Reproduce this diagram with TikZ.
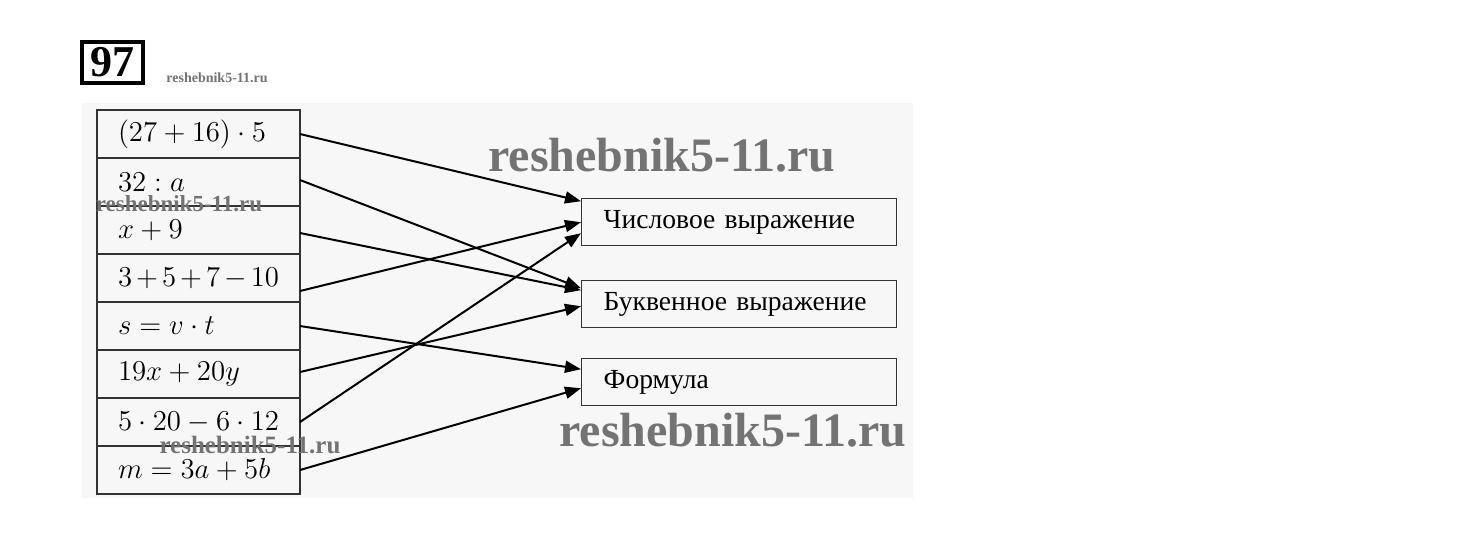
\documentclass[tikz,border=0pt]{standalone}
\usepackage{fontspec}
\setmainfont{Liberation Serif}
\usetikzlibrary{positioning,arrows.meta}

\begin{document}
\begin{tikzpicture}[x=0.5pt,y=-0.5pt,
  expr/.style={draw=black!80,line width=0.7pt,minimum height=24pt,outer sep=0pt,
    text width=80.5pt,inner xsep=10.5pt,align=left,
    font=\fontsize{14.5}{16}\selectfont},
  kind/.style={draw=black!80,line width=0.7pt,minimum height=23.5pt,
    text width=135.5pt,inner xsep=11pt,align=left,anchor=north west,
    font=\fontsize{13.8}{16}\selectfont},
  link/.style={line width=1pt,-{Triangle[length=8pt,width=6pt]}},
  mark/.style={text=black!55,inner sep=0pt,font=\bfseries\fontsize{#1}{#1}\selectfont}]
  \useasboundingbox (0,0) rectangle (1460,543);
  \fill[black!3] (82,103) rectangle (913,498);
  \node[draw,line width=2pt,minimum width=30.5pt,minimum height=20.5pt,inner sep=0pt,
    font=\bfseries\fontsize{22}{22}\selectfont] (num) at (112.5,62.5) {97};
  \node[mark=7,anchor=west] (wm0) at (166,78) {reshebnik5-11.ru};

  \node[expr,anchor=north west] (r1) at (97,110) {$(27+16)\cdot5$};
  \node[expr,below=0pt of r1] (r2) {$32:a$};
  \node[expr,below=0pt of r2] (r3) {$x+9$};
  \node[expr,below=0pt of r3] (r4) {$3+5+7-10$};
  \node[expr,below=0pt of r4] (r5) {$s=v\cdot t$};
  \node[expr,below=0pt of r5] (r6) {$19x+20y$};
  \node[expr,below=0pt of r6] (r7) {$5\cdot20-6\cdot12$};
  \node[expr,below=0pt of r7] (r8) {$m=3a+5b$};

  \node[kind] (num-expr) at (581,198) {Числовое выражение};
  \node[kind] (let-expr) at (581,280) {Буквенное выражение};
  \node[kind] (formula) at (581,358) {Формула};

  \draw[link] (r1.east) -- ([yshift=10.5pt]num-expr.west);
  \draw[link] ([yshift=1pt]r2.east) -- ([yshift=8pt]let-expr.west);
  \draw[link] ([yshift=-1.5pt]r3.east) -- ([yshift=7pt]let-expr.west);
  \draw[link] ([yshift=-6.5pt]r4.east) -- (num-expr.west);
  \draw[link] (r5.east) -- ([yshift=6.5pt]formula.west);
  \draw[link] ([yshift=1pt]r6.east) -- ([yshift=-1pt]let-expr.west);
  \draw[link] (r7.east) -- ([yshift=-5.5pt]num-expr.west);
  \draw[link] (r8.east) -- ([yshift=-3pt]formula.west);

  \node[mark=24] (wm1) at (662,155) {reshebnik5-11.ru};
  \node[mark=11.5] (wm2) at (179,204) {reshebnik5-11.ru};
  \node[mark=12.5] (wm3) at (250,445) {reshebnik5-11.ru};
  \node[mark=24] (wm4) at (733,430) {reshebnik5-11.ru};
\end{tikzpicture}
\end{document}
